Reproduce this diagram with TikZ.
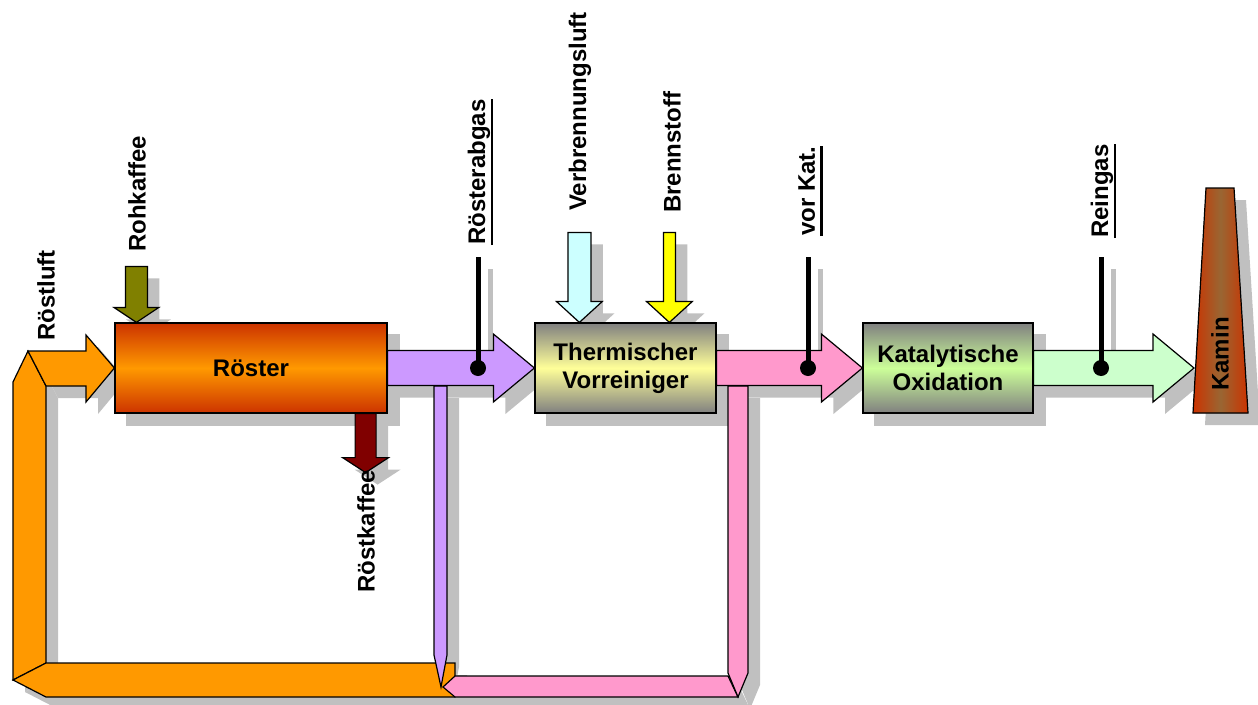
\documentclass[tikz,border=0pt]{standalone}
\usepackage{fontspec}
\setmainfont{Liberation Sans}
\usetikzlibrary{calc}
\definecolor{RoestOrange}{RGB}{255,153,0}
\definecolor{RoestRot}{RGB}{204,51,0}
\definecolor{Lila}{RGB}{204,153,255}
\definecolor{Rosa}{RGB}{255,153,204}
\definecolor{HellGruen}{RGB}{204,255,204}
\definecolor{Oliv}{RGB}{128,128,0}
\definecolor{HellCyan}{RGB}{204,255,255}
\definecolor{Gelb}{RGB}{255,255,0}
\definecolor{DunkelRot}{RGB}{128,0,0}
\definecolor{KastenGrau}{RGB}{128,128,128}
\definecolor{HellGelb}{RGB}{255,255,153}
\definecolor{GelbGruen}{RGB}{204,255,153}
\definecolor{KaminBraun}{RGB}{153,102,51}
\definecolor{Schatten}{RGB}{192,192,192}
\pgfdeclarelayer{schatten}
\pgfsetlayers{schatten,main}

% Form mit grauem Schatten
\newcommand\mitschatten[2]{%
  \begin{pgfonlayer}{schatten}
    \fill[schattenfl] #2;
  \end{pgfonlayer}
  \filldraw[umriss,#1] #2;}
% Blockpfeil nach rechts: Start, Spitze, Farbe
\newcommand\pfeilrechts[3]{%
  \mitschatten{fill=#3}{($(#1)+(0,-17.5)$) -- ($(#2)+(-41,-17.5)$) -- ($(#2)+(-41,-34)$) -- (#2)
    -- ($(#2)+(-41,34)$) -- ($(#2)+(-41,17.5)$) -- ($(#1)+(0,17.5)$) -- cycle}}
% Blockpfeil nach unten: Spitze, Laenge, Farbe, halbe Breite, halbe Kopfbreite, Kopflaenge
\newcommand\pfeilrunter[6]{%
  \mitschatten{fill=#3}{($(#1)+(-#4,-#2)$) -- ($(#1)+(#4,-#2)$) -- ($(#1)+(#4,-#6)$) -- ($(#1)+(#5,-#6)$)
    -- (#1) -- ($(#1)+(-#5,-#6)$) -- ($(#1)+(-#4,-#6)$) -- cycle}}
% Messstelle
\newcommand\sonde[1]{%
  \begin{pgfonlayer}{schatten}
    \draw[sondenlinie,draw=Schatten] ($(#1)+(12,-99)$) -- ($(#1)+(12,0)$);
  \end{pgfonlayer}
  \draw[sondenlinie] ($(#1)+(0,-111)$) -- (#1);
  \fill (#1) circle (8pt);}

\begin{document}
\begin{tikzpicture}[x=1pt,y=-1pt,
    umriss/.style={draw=black,line width=1.2pt,line join=miter},
    schattenfl/.style={fill=Schatten,transform canvas={shift={(12,12)}}},
    sondenlinie/.style={line width=5pt},
    schrift/.style={font=\bfseries\fontsize{24}{28}\selectfont},
    kasten/.style={schrift,draw,line width=1.2pt,inner sep=0pt,align=center,minimum height=90},
    beschr/.style={schrift,rotate=90,inner sep=0pt},
    messbeschr/.style={beschr,anchor=west,text depth=5pt}]
  \useasboundingbox (0,0) rectangle (1258,704);

  % Anlagenteile
  \node[kasten,minimum width=272,top color=RoestRot,bottom color=RoestRot,middle color=RoestOrange] (ros) at (251,368) {Röster};
  \node[kasten,minimum width=181,top color=KastenGrau,bottom color=KastenGrau,middle color=HellGelb] (thv) at (625.5,368) {Thermischer\\Vorreiniger};
  \node[kasten,minimum width=170,top color=KastenGrau,bottom color=KastenGrau,middle color=GelbGruen] (kat) at (948,368) {Katalytische\\Oxidation};
  \begin{pgfonlayer}{schatten}
    \foreach \n in {ros,thv,kat}
      \fill[schattenfl] (\n.north west) rectangle (\n.south east);
  \end{pgfonlayer}
  \mitschatten{left color=RoestRot,right color=RoestRot,middle color=KaminBraun}{(1206,188) -- (1234,188) -- (1248,413) -- (1193,413) -- cycle}
  \node[beschr] (kamin) at (1220,354) {Kamin};
  \coordinate (kl) at (1194,368);

  % Kreislauf Roestluft
  \mitschatten{fill=RoestOrange}{(13,382) -- (28,351) -- (46,386) -- (46,663) -- (13,680) -- cycle}
  \mitschatten{fill=RoestOrange}{(13,680) -- (46,663) -- (455,663) -- (455,697) -- (46,697) -- cycle}
  \mitschatten{fill=RoestOrange}{(28,351) -- (86,351) -- (86,335) -- (ros.west) -- (86,402) -- (86,386) -- (46,386) -- cycle}
  \mitschatten{fill=Rosa}{(443,687) -- (455,676) -- (728,676) -- (738,697) -- (455,697) -- cycle}
  \mitschatten{fill=Rosa}{(728,386) -- (748,386) -- (748,673) -- (738,697) -- (728,673) -- cycle}
  \mitschatten{fill=Lila}{(434,386) -- (447,386) -- (447,655) -- (441,687) -- (434,655) -- cycle}

  % Hauptstrom
  \pfeilrechts{ros.east}{thv.west}{Lila}
  \pfeilrechts{thv.east}{kat.west}{Rosa}
  \pfeilrechts{kat.east}{kl}{HellGruen}

  % Zu- und Abfuehrungen
  \coordinate (rohk) at ($(ros.north west)+(22,0)$);
  \coordinate (roestk) at ($(ros.south east)+(-22,59)$);
  \coordinate (verbr) at ($(thv.north west)+(45,0)$);
  \coordinate (brenn) at ($(thv.north west)+(135,0)$);
  \pfeilrunter{rohk}{56}{Oliv}{11}{22.5}{15}
  \pfeilrunter{roestk}{59}{DunkelRot}{10.5}{23}{15}
  \pfeilrunter{verbr}{90}{HellCyan}{11.5}{23}{21}
  \pfeilrunter{brenn}{90}{Gelb}{6}{23}{21}

  % Messstellen
  \coordinate (s1) at (478,368);
  \coordinate (s2) at (808,368);
  \coordinate (s3) at (1101,368);
  \sonde{s1}
  \sonde{s2}
  \sonde{s3}

  % Beschriftungen
  \node[beschr,anchor=west] (lluft) at (46,341) {Röstluft};
  \node[beschr,anchor=west] (lrohk) at (137,252) {Rohkaffee};
  \node[beschr,anchor=east] (lroestk) at (366,470) {Röstkaffee};
  \node[beschr,anchor=west] (lverbr) at (580,211) {Verbrennungsluft};
  \node[beschr,anchor=west] (lbrenn) at (672,213) {Brennstoff};
  \node[messbeschr] (ls1) at ($(s1)+(1,-123)$) {Rösterabgas};
  \node[messbeschr] (ls2) at ($(s2)+(1,-132)$) {vor Kat.};
  \node[messbeschr] (ls3) at ($(s3)+(1,-130)$) {Reingas};
  \foreach \n in {ls1,ls2,ls3}
    \draw[line width=2.6pt] ($(\n.south west)+(1.5,0)$) -- ($(\n.south east)+(1.5,0)$);
\end{tikzpicture}
\end{document}
